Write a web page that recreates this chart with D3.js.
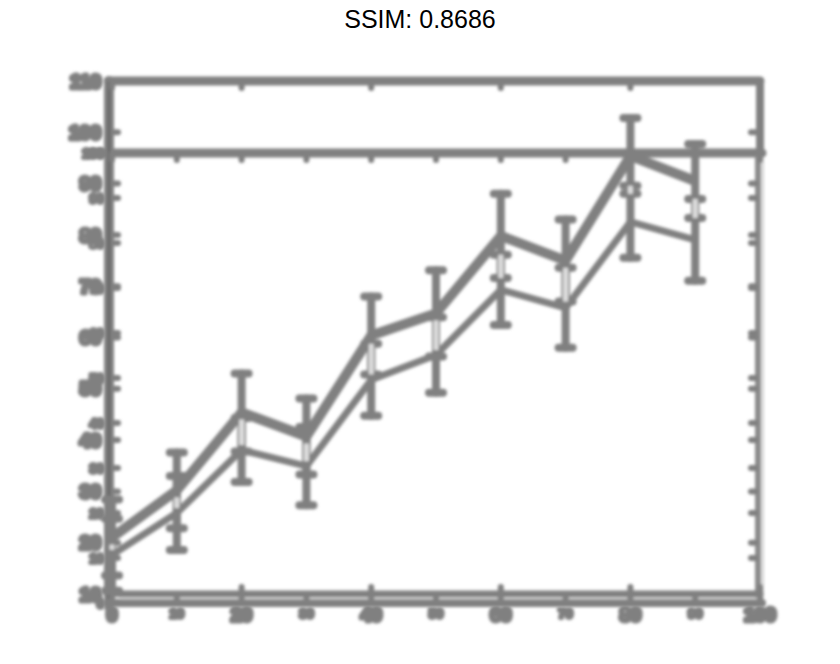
<!DOCTYPE html>
<html lang="en">
<head>
    <meta charset="UTF-8">
    <title>SSIM</title>
    <style>
        body { margin: 0; background: #fff; }
        .title { font: 25px "Liberation Sans", Arial, sans-serif; }
        .lab { font-family: "Liberation Sans", Arial, sans-serif; font-weight: bold; }
    </style>
</head>
<body>
    <div id="chart"></div>
    <script src="https://cdn.jsdelivr.net/npm/d3@7"></script>
    <script>
        // x categories shared by both series
        const xCats = [0, 10, 20, 30, 40, 50, 60, 70, 80, 90];
        // upper series (first chart, y 10..110)
        const upperVals = [21, 30.2, 45.4, 40.7, 60.4, 64.7, 79.8, 75, 95.4, 90.5];
        const upperErr = [7.4, 7.4, 7.6, 7.4, 7.6, 8.4, 8.2, 8, 7.4, 7.2];
        // lower series (second chart, y 0..100)
        const lowerVals = [10.7, 20, 34, 30.4, 49.6, 55.1, 69.6, 65.6, 84.7, 80.7];
        const lowerErr = [8, 8.2, 7.1, 8.7, 8, 8.4, 7.8, 8.9, 8, 9.1];
        // tick labels
        const yTicksA = [10, 20, 30, 40, 50, 60, 70, 80, 90, 100, 110];
        const yTicksB = [0, 10, 20, 30, 40, 50, 60, 70, 80, 90, 100];
        const xTicksA = [0, 20, 40, 60, 80, 100];
        const xTicksB = [0, 10, 20, 30, 40, 50, 60, 70, 80, 90, 100];

        const width = 840, height = 664;
        const gray = "#808080", light = "#dedede";

        const svg = d3.select("#chart").append("svg")
            .attr("width", width)
            .attr("height", height);

        svg.append("rect").attr("width", width).attr("height", height).attr("fill", "#fff");

        const defs = svg.append("defs");
        defs.append("filter")
            .attr("id", "blur")
            .attr("x", "-5%").attr("y", "-5%").attr("width", "110%").attr("height", "110%")
            .append("feGaussianBlur")
            .attr("stdDeviation", 1.6);
        defs.append("filter")
            .attr("id", "blob")
            .attr("x", "-20%").attr("y", "-20%").attr("width", "140%").attr("height", "140%")
            .append("feGaussianBlur")
            .attr("stdDeviation", 1.5);

        const x = d3.scaleLinear().domain([0, 100]).range([112, 760]);
        const yA = d3.scaleLinear().domain([10, 110]).range([594, 81]);
        const yB = d3.scaleLinear().domain([0, 100]).range([603, 153]);

        const tg = svg.append("g").attr("filter", "url(#blob)");
        const g = svg.append("g").attr("filter", "url(#blur)");

        function seg(x1, y1, x2, y2, w, c, cap) {
            g.append("line")
                .attr("x1", x1).attr("y1", y1).attr("x2", x2).attr("y2", y2)
                .attr("stroke", c || gray)
                .attr("stroke-width", w)
                .attr("stroke-linecap", cap || "round");
        }

        // tick labels of second chart (small blobs), only where the first has none
        tg.selectAll(".ylb").data(yTicksB).join("text")
            .attr("class", "lab")
            .attr("x", 104).attr("y", d => yB(d))
            .attr("dy", "0.35em")
            .attr("text-anchor", "end")
            .attr("font-size", 13)
            .attr("fill", gray).attr("stroke", gray).attr("stroke-width", 4)
            .attr("stroke-linejoin", "round")
            .text(d => d);
        tg.selectAll(".xlb").data(xTicksB.filter(d => !xTicksA.includes(d))).join("text")
            .attr("class", "lab")
            .attr("x", d => x(d)).attr("y", 618)
            .attr("text-anchor", "middle")
            .attr("font-size", 13)
            .attr("fill", gray).attr("stroke", gray).attr("stroke-width", 4)
            .attr("stroke-linejoin", "round")
            .text(d => d);

        // tick labels of first chart
        tg.selectAll(".yla").data(yTicksA).join("text")
            .attr("class", "lab")
            .attr("x", 101).attr("y", d => yA(d))
            .attr("dy", "0.35em")
            .attr("text-anchor", "end")
            .attr("font-size", 19)
            .attr("fill", gray).attr("stroke", gray).attr("stroke-width", 5)
            .attr("stroke-linejoin", "round")
            .text(d => d);
        tg.selectAll(".xla").data(xTicksA).join("text")
            .attr("class", "lab")
            .attr("x", d => x(d)).attr("y", 621)
            .attr("text-anchor", "middle")
            .attr("font-size", 19)
            .attr("fill", gray).attr("stroke", gray).attr("stroke-width", 5)
            .attr("stroke-linejoin", "round")
            .text(d => d);

        // frames
        seg(108, yA(110), 760, yA(110), 9);          // top of first chart
        seg(760, yA(110), 760, yB(100), 8);          // right of first chart above second
        seg(90, yB(100), 762, yB(100), 9);           // top of second chart
        seg(758, yB(100), 758, 600, 6, "#8a8a8a", "butt");
        seg(763, yB(100) + 4, 763, 600, 2, "#cfcfcf", "butt");
        seg(109, yA(110), 109, 606, 10);             // left axes
        seg(109, yA(110), 109, 606, 1.5, "#505050", "butt");
        seg(120, yA(10), 760, yA(10), 7);            // bottom of first chart
        seg(107, yB(0), 762, yB(0), 8);              // bottom of second chart
        seg(120, 598.5, 758, 598.5, 1.5, light, "butt");

        // ticks, first chart
        yTicksA.forEach(d => {
            seg(113, yA(d), 118, yA(d), 6);
            seg(755, yA(d), 751, yA(d), 6);
        });
        xTicksA.forEach(d => {
            seg(x(d), yA(110), x(d), yA(110) + 7, 6);
            seg(x(d), yA(10), x(d), yA(10) - 7, 6);
        });
        // ticks, second chart
        yTicksB.forEach(d => {
            seg(113, yB(d), 118, yB(d), 6);
            seg(755, yB(d), 751, yB(d), 6);
        });
        xTicksB.forEach(d => {
            seg(x(d), yB(100), x(d), yB(100) + 7, 6);
            seg(x(d), yB(0), x(d), yB(0) - 6, 6);
        });

        // error bars
        function errBars(vals, errs, y, w) {
            xCats.forEach((c, i) => {
                const top = y(vals[i] + errs[i]), bot = y(vals[i] - errs[i]);
                seg(x(c), top, x(c), bot, w);
                seg(x(c) - 7, top, x(c) + 7, top, 8);
                seg(x(c) - 7, bot, x(c) + 7, bot, 8);
            });
        }
        errBars(upperVals, upperErr, yA, 8);
        errBars(lowerVals, lowerErr, yB, 8);

        // lines
        const lineA = d3.line().x((d, i) => x(xCats[i])).y(d => yA(d));
        const lineB = d3.line().x((d, i) => x(xCats[i])).y(d => yB(d));
        g.append("path").attr("d", lineA(upperVals))
            .attr("fill", "none").attr("stroke", gray).attr("stroke-width", 10)
            .attr("stroke-linejoin", "round");
        g.append("path").attr("d", lineB(lowerVals))
            .attr("fill", "none").attr("stroke", gray).attr("stroke-width", 7)
            .attr("stroke-linejoin", "round");

        // where both error bars overlap the difference vanishes
        xCats.forEach((c, i) => {
            const t = Math.max(yA(upperVals[i]) + 7, yB(lowerVals[i] + lowerErr[i]));
            const b = Math.min(yB(lowerVals[i]) - 5, yA(upperVals[i] - upperErr[i]));
            if (b > t) seg(x(c), t, x(c), b, 5, light, "butt");
        });

        svg.append("text")
            .attr("class", "title")
            .attr("x", width / 2).attr("y", 28)
            .attr("text-anchor", "middle")
            .attr("fill", "#000")
            .text("SSIM: 0.8686");
    </script>
</body>
</html>
